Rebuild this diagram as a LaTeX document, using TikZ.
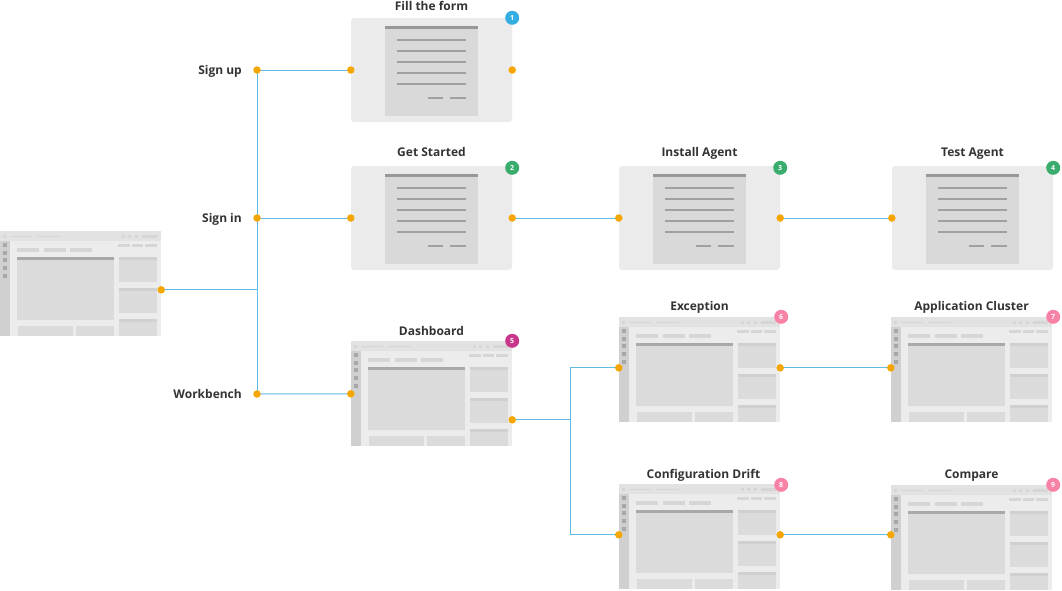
\documentclass[tikz,border=0pt]{standalone}
\usepackage{fontspec}
\setmainfont{Open Sans}
\usetikzlibrary{calc}
\definecolor{wire}{RGB}{96,188,228}
\definecolor{dotc}{RGB}{246,166,0}
\definecolor{txt}{RGB}{51,51,51}
\definecolor{cardbg}{RGB}{235,235,235}
\definecolor{sheet}{RGB}{217,217,217}
\definecolor{ink}{RGB}{160,160,160}
\definecolor{scrbg}{RGB}{236,236,236}
\definecolor{scrbar}{RGB}{226,226,226}
\definecolor{scrside}{RGB}{208,208,208}
\definecolor{scrpanel}{RGB}{219,219,219}
\definecolor{scrhead}{RGB}{168,168,168}
\definecolor{scrfaint}{RGB}{214,214,214}
\definecolor{bblue}{RGB}{53,174,226}
\definecolor{bgreen}{RGB}{58,173,110}
\definecolor{bmagenta}{RGB}{201,55,140}
\definecolor{bpink}{RGB}{247,130,166}
\tikzset{
  cardbox/.style={rectangle, fill=cardbg, rounded corners=3pt, inner sep=0pt,
    minimum width=161pt, minimum height=104pt},
  screenbox/.style={rectangle, fill=scrbg, inner sep=0pt,
    minimum width=161pt, minimum height=105pt},
  wirestyle/.style={draw=wire, line width=1pt},
  dot/.style={circle, fill=dotc, inner sep=0pt, minimum size=7.5pt},
  title/.style={font=\fontsize{12}{14}\selectfont\bfseries, text=txt, anchor=base, inner sep=0pt},
  sidelabel/.style={font=\fontsize{12}{14}\selectfont\bfseries, text=txt, anchor=base east, inner sep=0pt},
  badge/.style={circle, fill=#1, inner sep=0pt, minimum size=14pt, text=white,
    font=\fontsize{7}{8}\selectfont\bfseries},
  formcard/.pic={
    \node[cardbox] (-box) at (80.5,52) {};
    \fill[sheet] (34,8) rectangle (127,98);
    \fill[ink!95!black] (34,8) rectangle (127,11);
    \foreach \yy in {22,33,44,55,66}
      \fill[ink] (46,\yy-1.2) rectangle (115,\yy+1.2);
    \fill[ink] (77,78.8) rectangle (92,81.2);
    \fill[ink] (99,78.8) rectangle (115,81.2);
  },
  screen/.pic={
    \node[screenbox] (-box) at (80.5,52.5) {};
    \fill[scrbar] (0,0) rectangle (161,10);
    \fill[scrfaint] (3,4) rectangle (6,7);
    \fill[scrfaint] (10,4.5) rectangle (32,6);
    \fill[scrfaint] (37,4.5) rectangle (60,6);
    \foreach \xx in {122,128,135}
      \fill[scrfaint] (\xx,3.5) rectangle (\xx+3,6.5);
    \fill[scrfaint] (142,3.5) rectangle (157,6.5);
    \fill[scrside] (0,10) rectangle (10,105);
    \foreach \yy in {12,20,27,35,43}
      \fill[scrhead] (3,\yy) rectangle (7,\yy+4);
    \foreach \xx in {17,44,70}
      \fill[scrfaint] (\xx,17) rectangle (\xx+22,21);
    \fill[scrfaint] (118,13) rectangle (130,15.5);
    \fill[scrfaint] (132,13) rectangle (143,15.5);
    \fill[scrfaint] (145,13) rectangle (157,15.5);
    \fill[scrpanel] (17,26) rectangle (114,89);
    \fill[scrhead] (17,26) rectangle (114,29);
    \foreach \ya/\yb in {26/51,57/82,88/105} {
      \fill[scrpanel] (119,\ya) rectangle (157,\yb);
      \fill[scrside] (119,\ya) rectangle (157,\ya+3);
    }
    \fill[scrpanel] (18,95) rectangle (73,105);
    \fill[scrpanel] (76,95) rectangle (114,105);
  }
}
\begin{document}
\begin{tikzpicture}[x=1pt,y=-1pt]
  \useasboundingbox (0,0) rectangle (1062,590);

  % pages and screens
  \pic (ls) at (0,231) {screen};
  \pic (fill) at (351,18) {formcard};
  \pic (gs) at (351,166) {formcard};
  \pic (ia) at (619,166) {formcard};
  \pic (ta) at (892,166) {formcard};
  \pic (db) at (351,341) {screen};
  \pic (ex) at (619,317) {screen};
  \pic (ac) at (891,317) {screen};
  \pic (cd) at (619,484) {screen};
  \pic (cp) at (891,485) {screen};

  % titles
  \node[title] at ($(fill-box.north)+(0,-7)$) {Fill the form};
  \node[title] at ($(gs-box.north)+(0,-9.5)$) {Get Started};
  \node[title] at ($(ia-box.north)+(0,-9.5)$) {Install Agent};
  \node[title] at ($(ta-box.north)+(0,-9.5)$) {Test Agent};
  \node[title] at ($(db-box.north)+(0,-5)$) {Dashboard};
  \node[title] at ($(ex-box.north)+(0,-6)$) {Exception};
  \node[title] at ($(ac-box.north)+(0,-6)$) {Application Cluster};
  \node[title] at ($(cd-box.north)+(4,-5)$) {Configuration Drift};
  \node[title] at ($(cp-box.north)+(0,-6)$) {Compare};

  % badges
  \node[badge=bblue] at (fill-box.north east) {1};
  \node[badge=bgreen] at ($(gs-box.north east)+(0,2)$) {2};
  \node[badge=bgreen] at ($(ia-box.north east)+(0,2)$) {3};
  \node[badge=bgreen] at ($(ta-box.north east)+(0,2)$) {4};
  \node[badge=bmagenta] at (db-box.north east) {5};
  \node[badge=bpink] at ($(ex-box.north east)+(1,0)$) {6};
  \node[badge=bpink] at ($(ac-box.north east)+(1,0)$) {7};
  \node[badge=bpink] at ($(cd-box.north east)+(1,1)$) {8};
  \node[badge=bpink] at ($(cp-box.north east)+(1,0)$) {9};

  % connection points
  \coordinate (su) at (257,70);
  \coordinate (si) at (257,218);
  \coordinate (wb) at (257,394);
  \coordinate (lsout) at ($(ls-box.north east)+(0,59)$);
  \coordinate (jn) at (lsout -| su);
  \coordinate (dbin) at ($(db-box.north west)+(0,53)$);
  \coordinate (dbout) at ($(db-box.north east)+(0,79)$);
  \coordinate (br) at ($(dbout)+(58,0)$);
  \coordinate (exin) at ($(ex-box.north west)+(0,51)$);
  \coordinate (exout) at ($(ex-box.north east)+(0,51)$);
  \coordinate (acin) at ($(ac-box.north west)+(0,51)$);
  \coordinate (cdin) at ($(cd-box.north west)+(0,51)$);
  \coordinate (cdout) at ($(cd-box.north east)+(0,51)$);
  \coordinate (cpin) at ($(cp-box.north west)+(0,50)$);

  \node[sidelabel] at ($(su)+(-15,4.5)$) {Sign up};
  \node[sidelabel] at ($(si)+(-15,4.5)$) {Sign in};
  \node[sidelabel] at ($(wb)+(-15,4.5)$) {Workbench};

  % connectors
  \draw[wirestyle] (lsout) -- (jn);
  \draw[wirestyle] (su) -- (wb);
  \draw[wirestyle] (su) -- (fill-box.west);
  \draw[wirestyle] (si) -- (gs-box.west);
  \draw[wirestyle] (wb) -- (dbin);
  \draw[wirestyle] (gs-box.east) -- (ia-box.west);
  \draw[wirestyle] (ia-box.east) -- (ta-box.west);
  \draw[wirestyle] (dbout) -- (br);
  \draw[wirestyle] (br) |- (exin);
  \draw[wirestyle] (br) |- (cdin);
  \draw[wirestyle] (exout) -- (acin);
  \draw[wirestyle] (cdout) -- (cpin);

  % dots
  \foreach \p in {su,si,wb,lsout,dbin,dbout,exin,exout,acin,cdin,cdout,cpin,
      fill-box.west,fill-box.east,gs-box.west,gs-box.east,ia-box.west,ia-box.east,ta-box.west}
    \node[dot] at (\p) {};
\end{tikzpicture}
\end{document}
